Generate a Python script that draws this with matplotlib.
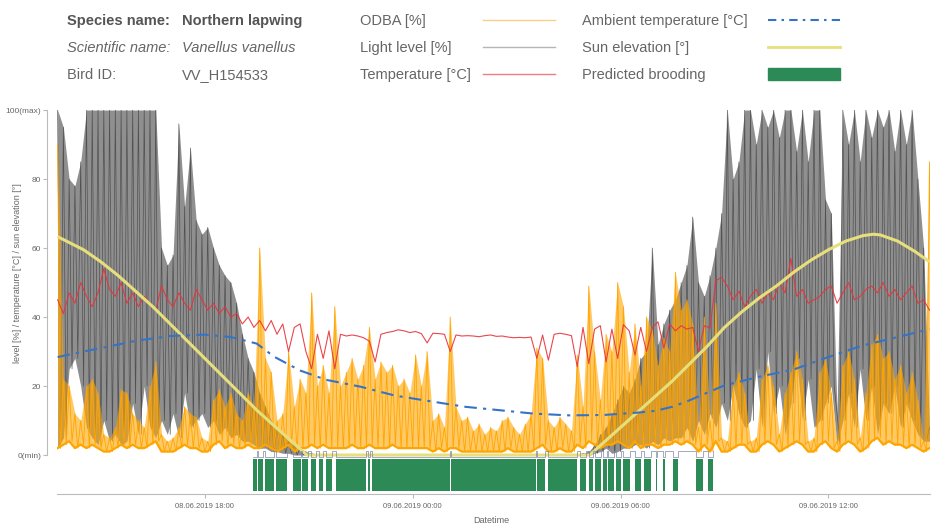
import numpy as np
import pandas as pd
import matplotlib
matplotlib.use('Agg')
import matplotlib.pyplot as plt
import matplotlib.dates as mdates
import matplotlib.patches as mpatches
from matplotlib.lines import Line2D
from matplotlib import rcParams

rcParams['font.family'] = ['Liberation Sans', 'DejaVu Sans']

# === logger data, 10 min bins (min / max per bin) from 08.06.2019 13:45
start_time = '2019-06-08 13:45'

light_max = [100, 95, 80, 78, 85, 100, 100, 100, 100, 100, 100, 100,
             100, 100, 100, 100, 100, 100, 60, 55, 58, 96, 72, 89,
             68, 64, 66, 60, 55, 52, 50, 44, 35, 28, 24, 18,
             14, 10, 8, 6, 4, 3, 2, 1, 0.5, 0, 0, 0,
             0, 0, 0, 0, 0, 0, 0, 0, 0, 0, 0, 0,
             0, 0, 0, 0, 0, 0, 0, 0, 0, 0, 0, 0,
             0, 0, 0, 0, 0, 0, 0, 0, 0, 0, 0, 0,
             0, 0, 0, 0, 0, 0, 0, 0.5, 1, 3, 6, 8,
             12, 16, 20, 18, 22, 28, 30, 60, 32, 38, 42, 45,
             50, 55, 69, 50, 46, 52, 60, 70, 100, 80, 85, 100,
             100, 90, 100, 95, 100, 92, 100, 100, 88, 100, 85, 100,
             100, 74, 70, 12, 100, 90, 100, 85, 100, 92, 100, 95,
             100, 88, 100, 90, 100, 80, 60, 8]
light_min = [2, 5, 25, 28, 20, 8, 5, 3, 10, 4, 6, 3,
             4, 15, 6, 20, 8, 5, 10, 6, 12, 5, 18, 8,
             10, 12, 8, 10, 6, 8, 5, 6, 4, 4, 3, 2,
             2, 1, 1, 0.5, 0.5, 0, 0, 0, 0, 0, 0, 0,
             0, 0, 0, 0, 0, 0, 0, 0, 0, 0, 0, 0,
             0, 0, 0, 0, 0, 0, 0, 0, 0, 0, 0, 0,
             0, 0, 0, 0, 0, 0, 0, 0, 0, 0, 0, 0,
             0, 0, 0, 0, 0, 0, 0, 0, 0, 0.5, 1, 2,
             0.5, 1, 2, 2, 3, 3, 2, 4, 3, 5, 4, 5,
             5, 8, 4, 10, 6, 12, 8, 15, 10, 20, 12, 8,
             10, 25, 8, 30, 12, 20, 6, 15, 28, 10, 22, 8,
             10, 15, 20, 3, 10, 18, 8, 25, 10, 20, 6, 15,
             12, 20, 8, 15, 10, 6, 4, 4]
odba_max = [90, 22, 20, 12, 10, 20, 22, 18, 6, 5, 8, 19,
            18, 12, 10, 8, 20, 27, 6, 4, 5, 8, 14, 12,
            11, 5, 4, 16, 19, 14, 18, 12, 10, 18, 14, 60,
            28, 24, 10, 12, 30, 14, 22, 18, 47, 20, 26, 18,
            43, 20, 24, 28, 22, 26, 37, 22, 27, 24, 26, 20,
            22, 18, 29, 20, 30, 10, 12, 8, 40, 14, 10, 11,
            7, 9, 6, 8, 7, 10, 11, 8, 6, 9, 12, 31,
            28, 10, 8, 11, 9, 7, 29, 14, 49, 30, 16, 35,
            30, 50, 43, 24, 38, 20, 40, 36, 26, 34, 30, 53,
            42, 45, 38, 8, 40, 10, 44, 5, 4, 20, 24, 18,
            4, 5, 22, 26, 20, 6, 18, 24, 30, 22, 4, 5,
            24, 28, 18, 4, 26, 30, 22, 5, 18, 32, 35, 28,
            30, 22, 26, 18, 24, 16, 4, 85]
odba_min = [2, 3, 4, 2, 3, 2, 3, 2, 1, 1, 2, 3,
            2, 3, 2, 2, 3, 4, 1, 1, 1, 2, 3, 2,
            2, 1, 1, 3, 4, 2, 3, 2, 2, 3, 2, 2,
            3, 2, 1, 2, 3, 1, 2, 2, 3, 2, 3, 2,
            2, 2, 2, 3, 2, 2, 3, 2, 2, 2, 3, 2,
            2, 2, 2, 2, 2, 1, 2, 1, 2, 2, 1, 1,
            1, 1, 1, 1, 1, 1, 2, 1, 1, 1, 1, 2,
            3, 1, 1, 2, 1, 1, 3, 2, 4, 3, 2, 3,
            3, 4, 3, 2, 4, 2, 3, 3, 2, 3, 3, 4,
            3, 4, 3, 1, 3, 1, 4, 1, 1, 2, 3, 3,
            1, 1, 3, 4, 3, 1, 2, 3, 4, 3, 1, 1,
            3, 4, 2, 1, 3, 4, 3, 1, 2, 4, 5, 3,
            4, 3, 3, 2, 3, 2, 1, 2]
temperature = [45, 41, 47, 44, 50, 46, 43, 47, 54, 48, 46, 50,
               44, 47, 43, 46, 44, 42, 49, 45, 43, 47, 44, 42,
               48, 45, 42, 44, 41, 43, 40, 41, 38, 40, 37, 39,
               36, 39, 35, 38, 30, 37, 38, 30, 25, 35, 28, 36,
               25, 35, 34.5, 34.8, 34.5, 34, 33, 27, 35, 35.5, 35.8, 36.3,
               36, 35.5, 35.8, 35.2, 32.5, 35.3, 35.2, 35, 30, 34.8, 34.5, 34.6,
               34.5, 34.3, 34.6, 34.8, 34.4, 34.5, 34.2, 34.0, 34.1, 34.0, 34.2, 28,
               34.8, 27.5, 35, 35.3, 35, 34.6, 25.6, 37, 26.5, 36.5, 37.5, 27,
               36.5, 28, 37.8, 36, 29, 37, 30, 37, 38.6, 31, 38, 36,
               37.5, 36.5, 37, 30, 37.5, 36.8, 50.5, 51.5, 49, 45, 47.5, 43,
               46, 48, 44, 47, 45, 50, 47, 57, 46, 48, 44, 45,
               46, 48, 49, 44, 47, 50, 45, 46, 48, 49, 47, 50,
               46, 48, 45, 47, 49, 44, 45, 42]

# hours after 08.06.2019 00:00
sun_hours = [13.75, 14.5, 15, 15.5, 16, 16.5, 17, 17.5, 18, 18.5, 19, 19.5, 20, 20.5, 20.95,
             29.11, 29.5, 30, 30.5, 31, 31.5, 32, 32.5, 33, 33.5, 34, 34.5, 35, 35.5, 36,
             36.5, 37, 37.3, 37.5, 38, 38.5, 38.92]
sun_elev = [63.3, 59.5, 56, 52, 47.5, 43, 38, 33, 28, 23, 18, 13, 8.5, 4, 0,
            0, 3.5, 8, 12.5, 17, 21.5, 26.5, 31.5, 37, 41.5, 45.5, 49, 53, 56.5, 59.5,
            62, 63.6, 64, 63.8, 62, 59, 56]
ambient_hours = [13.75, 14.5, 15, 16, 17, 18, 18.75, 19.5, 20, 20.75, 21.5, 22.5, 23.5, 24.5, 25.5,
                 26.5, 27.5, 28.5, 29.5, 30.5, 31, 31.5, 32, 33, 34, 35, 36, 37, 38, 38.92]
ambient_temp = [28.4, 30.0, 31.0, 33.1, 34.5, 34.9, 34.2, 32.3, 28.5, 24.5, 21.8, 19.8, 17.2, 15.6, 14.0,
                13.0, 12.0, 11.5, 11.6, 12.3, 12.8, 14.0, 15.9, 20.2, 22.7, 24.8, 28.4, 31.8, 34.2, 36.5]

brood_start = ['2019-06-08 19:23', '2019-06-08 19:32', '2019-06-08 19:44', '2019-06-08 20:04',
               '2019-06-08 20:32', '2019-06-08 20:48', '2019-06-08 21:04', '2019-06-08 21:18',
               '2019-06-08 21:30', '2019-06-08 21:47', '2019-06-08 22:42', '2019-06-08 22:50',
               '2019-06-09 01:07', '2019-06-09 03:35', '2019-06-09 03:55', '2019-06-09 04:50',
               '2019-06-09 05:05', '2019-06-09 05:16', '2019-06-09 05:30', '2019-06-09 05:39',
               '2019-06-09 05:53', '2019-06-09 06:04', '2019-06-09 06:25', '2019-06-09 06:40',
               '2019-06-09 07:01', '2019-06-09 07:13', '2019-06-09 07:31', '2019-06-09 08:11',
               '2019-06-09 08:32']
brood_end = ['2019-06-08 19:31', '2019-06-08 19:40', '2019-06-08 19:59', '2019-06-08 20:23',
             '2019-06-08 20:46', '2019-06-08 20:59', '2019-06-08 21:13', '2019-06-08 21:25',
             '2019-06-08 21:41', '2019-06-08 22:40', '2019-06-08 22:46', '2019-06-09 01:04',
             '2019-06-09 03:34', '2019-06-09 03:50', '2019-06-09 04:45', '2019-06-09 05:01',
             '2019-06-09 05:13', '2019-06-09 05:27', '2019-06-09 05:36', '2019-06-09 05:49',
             '2019-06-09 06:00', '2019-06-09 06:16', '2019-06-09 06:35', '2019-06-09 06:53',
             '2019-06-09 07:04', '2019-06-09 07:17', '2019-06-09 07:40', '2019-06-09 08:22',
             '2019-06-09 08:41']

# colours
c_odba = '#ffa500'
c_light = '#4a4a4a'
c_temp = '#e8323a'
c_amb = '#3673c4'
c_sun = '#e6df7c'
c_brood = '#2b8a55'
c_text = '#555555'

# === time axes
t = pd.date_range(start_time, periods=len(light_max), freq='10min')
tn = mdates.date2num(t)
half = 5 / 1440
x_zig = np.column_stack([tn, tn + half]).ravel()
day0 = mdates.date2num(pd.Timestamp('2019-06-08 00:00'))
sun_t = day0 + np.array(sun_hours) / 24
amb_t = day0 + np.array(ambient_hours) / 24
b_start = mdates.date2num(pd.to_datetime(brood_start))
b_end = mdates.date2num(pd.to_datetime(brood_end))

fig = plt.figure(figsize=(9.52, 5.26), dpi=100)
fig.patch.set_facecolor('white')
ax = fig.add_axes([0.0599, 0.0608, 0.917, 0.730])

# light level: min/max envelope + trace
ax.fill_between(tn, light_min, light_max, color=c_light, alpha=0.62, lw=0, zorder=1)
ax.plot(x_zig, np.column_stack([light_max, light_min]).ravel(), color=c_light, lw=0.5, alpha=0.9, zorder=2)

# ODBA
ax.fill_between(tn, odba_min, odba_max, color=c_odba, alpha=0.6, lw=0, zorder=3)
ax.plot(x_zig, np.column_stack([odba_max, odba_min]).ravel(), color=c_odba, lw=0.6, zorder=4)
ax.plot(tn, odba_min, color=c_odba, lw=1.6, zorder=4)

# body temperature
ax.plot(tn, temperature, color=c_temp, lw=0.8, alpha=0.9, zorder=5)

# sun + ambient
ax.plot(sun_t, sun_elev, color=c_sun, lw=2.2, zorder=6, solid_capstyle='butt')
ax.plot(amb_t, ambient_temp, color=c_amb, lw=1.5, linestyle=(0, (6, 3, 1.5, 3)), zorder=7)

# brooding state line + bars
state_x = np.column_stack([b_start, b_end]).ravel()
ax.step(state_x, np.where(np.arange(len(state_x)) % 2 == 1, 1.2, -0.5), where='post',
        color='#7f86a8', lw=0.5, zorder=8)
ax.broken_barh(list(zip(b_start, b_end - b_start)), (-10.4, 9.25),
               facecolors=c_brood, edgecolor='none', zorder=8)

ax.set_xlim(mdates.date2num(pd.Timestamp('2019-06-08 13:44')),
            mdates.date2num(pd.Timestamp('2019-06-09 14:56')))
ax.set_ylim(-11.3, 100)

# axes styling
for s in ['top', 'right']:
    ax.spines[s].set_visible(False)
ax.spines['left'].set_position(('outward', 7))
ax.spines['left'].set_bounds(0, 100)
for s in ['left', 'bottom']:
    ax.spines[s].set_color('#bbbbbb')
    ax.spines[s].set_linewidth(0.8)

ax.set_yticks([0, 20, 40, 60, 80, 100])
ax.set_yticklabels(['0(min)', '20', '40', '60', '80', '100(max)'])
ax.xaxis.set_major_locator(mdates.HourLocator(byhour=[0, 6, 12, 18]))
ax.xaxis.set_major_formatter(mdates.DateFormatter('%d.%m.%Y %H:%M'))
ax.tick_params(axis='y', labelsize=6, colors='#bbbbbb', labelcolor='#666666', length=3, width=0.8, pad=1.5)
ax.tick_params(axis='x', labelsize=5.5, colors='#bbbbbb', labelcolor='#666666', length=3, width=0.8)
ax.set_xlabel('Datetime', fontsize=6.5, color='#666666')
ax.xaxis.set_label_coords(0.497, -0.058)
ax.set_ylabel('level [%] / temperature [°C] / sun elevation [°]', fontsize=6.5, color='#666666')
ax.yaxis.set_label_coords(-0.04, 0.575)

# === header legend
rows = [0.962, 0.911, 0.859]
base = [y - 0.0095 for y in rows]
fig.text(0.0704, base[0], 'Species name:', fontsize=10.5, fontweight='bold', color=c_text)
fig.text(0.191, base[0], 'Northern lapwing', fontsize=10.5, fontweight='bold', color=c_text)
fig.text(0.0704, base[1], 'Scientific name:', fontsize=10.5, style='italic', color='#666666')
fig.text(0.191, base[1], 'Vanellus vanellus', fontsize=10.5, style='italic', color='#666666')
fig.text(0.0704, base[2], 'Bird ID:', fontsize=10.5, color='#666666')
fig.text(0.191, base[2], 'VV_H154533', fontsize=10.5, color='#666666')

col3 = ['ODBA [%]', 'Light level [%]', 'Temperature [°C]']
col3_colors = ['#f9cf8a', '#b5b5b5', '#f07c80']
for y, yb, lab, c in zip(rows, base, col3, col3_colors):
    fig.text(0.378, yb, lab, fontsize=10.5, color='#666666')
    fig.add_artist(Line2D([0.507, 0.583], [y, y], color=c, lw=1.0, transform=fig.transFigure))

col4 = ['Ambient temperature [°C]', 'Sun elevation [°]', 'Predicted brooding']
for yb, lab in zip(base, col4):
    fig.text(0.611, yb, lab, fontsize=10.5, color='#666666')
fig.add_artist(Line2D([0.807, 0.882], [rows[0], rows[0]], color=c_amb, lw=1.5,
                      linestyle=(0, (4, 2.5, 1.2, 2.5)), transform=fig.transFigure))
fig.add_artist(Line2D([0.807, 0.882], [rows[1], rows[1]], color=c_sun, lw=2.0, transform=fig.transFigure))
fig.add_artist(mpatches.Rectangle((0.807, rows[2] - 0.0114), 0.075, 0.0228, color=c_brood,
                                  transform=fig.transFigure))

plt.savefig('out.png', dpi=100, facecolor='white')
